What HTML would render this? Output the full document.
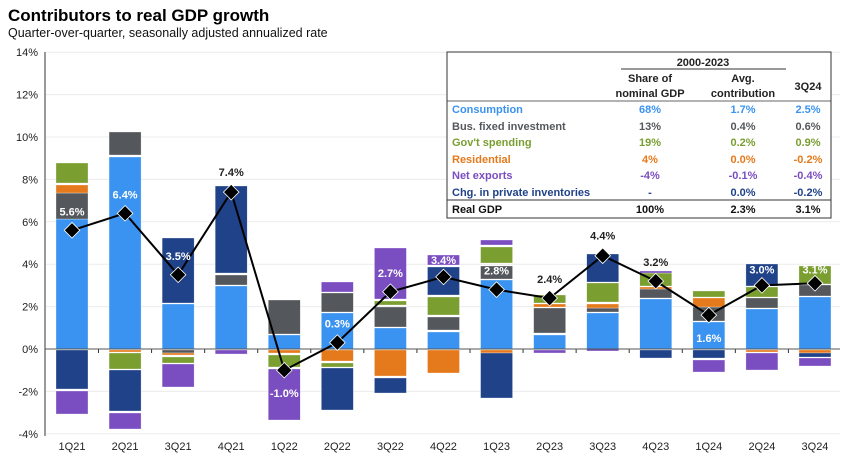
<!DOCTYPE html>
<html><head><meta charset="utf-8"><style>
body{margin:0;background:#fff;font-family:"Liberation Sans",Arial,sans-serif}
svg{display:block}
</style></head><body>
<svg id="s" width="850" height="461" xmlns="http://www.w3.org/2000/svg" font-family="Liberation Sans, Arial, sans-serif">
<text x="8" y="21" font-size="17" font-weight="bold" fill="#000">Contributors to real GDP growth</text>
<text x="8" y="37" font-size="12.5" fill="#111">Quarter-over-quarter, seasonally adjusted annualized rate</text>
<g id="grid"></g>
<g id="bars"></g>
<g id="tbl">
<rect x="447" y="52" width="384" height="166" fill="#fff" stroke="#333" stroke-width="1"/>
<line x1="447" y1="200" x2="831" y2="200" stroke="#333"/>
<line x1="621" y1="69" x2="786" y2="69" stroke="#333"/>
<line x1="447" y1="101" x2="831" y2="101" stroke="#333" stroke-width="0.8"/>
<g font-size="11" font-weight="bold" text-anchor="middle" fill="#222">
<text x="703" y="66">2000-2023</text>
<text x="650" y="82">Share of</text><text x="650" y="97">nominal GDP</text>
<text x="743" y="82">Avg.</text><text x="743" y="97">contribution</text>
<text x="808" y="90">3Q24</text>
</g>
<g font-size="11" font-weight="bold">
<g fill="#3a93f0"><text x="452" y="113">Consumption</text><text x="650" y="113" text-anchor="middle">68%</text><text x="743" y="113" text-anchor="middle">1.7%</text><text x="808" y="113" text-anchor="middle">2.5%</text></g>
<g fill="#54585c"><text x="452" y="130">Bus. fixed investment</text><text x="650" y="130" text-anchor="middle">13%</text><text x="743" y="130" text-anchor="middle">0.4%</text><text x="808" y="130" text-anchor="middle">0.6%</text></g>
<g fill="#7a9e30"><text x="452" y="146">Gov't spending</text><text x="650" y="146" text-anchor="middle">19%</text><text x="743" y="146" text-anchor="middle">0.2%</text><text x="808" y="146" text-anchor="middle">0.9%</text></g>
<g fill="#e57a1c"><text x="452" y="163">Residential</text><text x="650" y="163" text-anchor="middle">4%</text><text x="743" y="163" text-anchor="middle">0.0%</text><text x="808" y="163" text-anchor="middle">-0.2%</text></g>
<g fill="#7a4ec0"><text x="452" y="179">Net exports</text><text x="650" y="179" text-anchor="middle">-4%</text><text x="743" y="179" text-anchor="middle">-0.1%</text><text x="808" y="179" text-anchor="middle">-0.4%</text></g>
<g fill="#1f4288"><text x="452" y="196">Chg. in private inventories</text><text x="650" y="196" text-anchor="middle">-</text><text x="743" y="196" text-anchor="middle">0.0%</text><text x="808" y="196" text-anchor="middle">-0.2%</text></g>
<g fill="#111"><text x="452" y="213">Real GDP</text><text x="650" y="213" text-anchor="middle">100%</text><text x="743" y="213" text-anchor="middle">2.3%</text><text x="808" y="213" text-anchor="middle">3.1%</text></g>
</g>
</g>
</svg>
<script>
var NS="http://www.w3.org/2000/svg",g=document.getElementById('grid'),b=document.getElementById('bars');
function el(p,t,a,txt){var e=document.createElementNS(NS,t);for(var k in a)e.setAttribute(k,a[k]);if(txt)e.textContent=txt;p.appendChild(e);return e;}
var z=349,u=21.2;
for(var v=-4;v<=14;v+=2){var y=z-v*u;if(v!=0)el(g,'line',{x1:46,x2:840,y1:y,y2:y,stroke:'#ececec','stroke-width':1});el(g,'text',{x:38,y:y+4,'font-size':11,'text-anchor':'end',fill:'#222'},v+'%');}
el(g,'line',{x1:45,x2:45,y1:52,y2:436,stroke:'#333','stroke-width':1});
var C={c:'#3a93f0',g:'#54585c',v:'#7a9e30',r:'#e57a1c',n:'#7a4ec0',i:'#1f4288'};
var bars=[
[['c',219,349],['g',193,219],['r',185,193],['v',163,183],['i',350,389],['n',391,414]],
[['c',157,349],['g',132,155],['r',350,352],['v',353,369],['i',370,411],['n',413,429]],
[['c',304,349],['i',238,303],['g',350,353],['r',353,355],['v',357,363],['n',364,387]],
[['c',286,349],['g',275,285],['i',186,273],['n',350,354]],
[['c',335,349],['g',300,334],['r',350,353],['v',355,367],['n',369,420]],
[['c',313,349],['g',293,312],['n',282,292],['r',350,361],['v',363,367],['i',368,410]],
[['c',328,349],['g',307,327],['v',301,305],['n',248,299],['r',350,376],['i',378,393]],
[['c',332,349],['g',317,330],['v',297,315],['i',267,295],['n',255,265],['r',350,373]],
[['c',280,349],['g',266,279],['v',247,263],['n',240,245],['r',350,353],['i',353,398]],
[['c',335,349],['g',308,333],['r',304,307],['v',295,303],['n',350,353]],
[['c',313,349],['g',308,312],['r',304,308],['v',283,302],['i',254,282],['n',349,351]],
[['c',299,349],['g',289,298],['r',287,289],['v',273,286],['n',271,273],['i',350,358]],
[['c',322,349],['g',307,321],['r',298,307],['v',291,297],['i',350,358],['n',360,372]],
[['c',309,349],['g',298,308],['v',287,297],['i',264,286],['r',350,352],['n',353,370]],
[['c',297,349],['g',285,296],['v',266,284],['r',350,353],['i',353,357],['n',358,366]]];
var labs=['1Q21','2Q21','3Q21','4Q21','1Q22','2Q22','3Q22','4Q22','1Q23','2Q23','3Q23','4Q23','1Q24','2Q24','3Q24'];
var gdp=[5.6,6.4,3.5,7.4,-1.0,0.3,2.7,3.4,2.8,2.4,4.4,3.2,1.6,3.0,3.1];
// label: [dy offset, color]
var L=[[-19,'#fff'],[-19,'#fff'],[-19,'#fff'],[-20,'#222'],[23,'#fff'],[-19,'#fff'],[-19,'#fff'],[-17,'#fff'],[-19,'#fff'],[-19,'#222'],[-20,'#222'],[-19,'#222'],[23,'#fff'],[-16,'#fff'],[-14,'#fff']];
var pts=[];
for(var i=0;i<15;i++){var cx=72+i*53.07;
 bars[i].forEach(function(s){el(b,'rect',{x:cx-16,y:s[1],width:32,height:Math.max(1,s[2]-s[1]),fill:C[s[0]],stroke:'#fff','stroke-width':0.5,'stroke-opacity':0.6});});
 el(b,'text',{x:cx,y:450,'font-size':11,'text-anchor':'middle',fill:'#222'},labs[i]);
 if(i<14)el(b,'line',{x1:cx+26.5,x2:cx+26.5,y1:349,y2:353,stroke:'#333'});
 pts.push([cx,z-gdp[i]*u]);}
el(b,'line',{x1:45,x2:840,y1:349,y2:349,stroke:'#555','stroke-width':1});
el(b,'polyline',{points:pts.map(function(p){return p.join(',')}).join(' '),fill:'none',stroke:'#000','stroke-width':2});
pts.forEach(function(p,i){el(b,'rect',{x:p[0]-5.5,y:p[1]-5.5,width:11,height:11,fill:'#000',stroke:'#fff','stroke-width':0.8,transform:'rotate(45 '+p[0]+' '+p[1]+')'});
 el(b,'text',{x:p[0],y:p[1]+L[i][0]+4,'font-size':11,'font-weight':'bold','text-anchor':'middle',fill:L[i][1]},gdp[i].toFixed(1)+'%');});
</script>
</body></html>
